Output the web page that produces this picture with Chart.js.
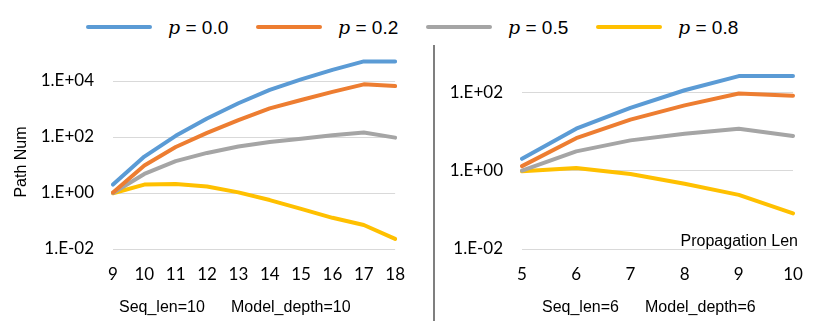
<!DOCTYPE html>
<html>
<head>
<meta charset="utf-8">
<script src="https://cdn.jsdelivr.net/npm/chart.js@4.4.1/dist/chart.umd.min.js"></script>
<style>
  body { margin: 0; background: #fff; }
  #wrap { position: relative; width: 832px; height: 331px; overflow: hidden; }
  #left { position: absolute; left: 0; top: 0; }
  #right { position: absolute; left: 420px; top: 0; }
  #divider { position: absolute; left: 433px; top: 45px; width: 2px; height: 276px; background: #7f7f7f; }
  #legend { position: absolute; left: 86px; top: 13px; display: flex; }
  .item { display: flex; align-items: center; width: 170px; height: 28px; }
  .swatch { width: 66px; height: 4px; border-radius: 2px; margin-right: 16px; }
  .lbl { font-family: "Liberation Sans", Arial, sans-serif; font-size: 19px; color: #000; white-space: pre; }
  .lbl i { font-family: "DejaVu Serif", serif; font-size: 19px; }
</style>
</head>
<body>
<div id="wrap">
  <div id="legend"></div>
  <canvas id="left" width="420" height="331"></canvas>
  <canvas id="right" width="412" height="331"></canvas>
  <div id="divider"></div>
</div>
<script>
// nazwy serii i kolory
const pValues = ["0.0", "0.2", "0.5", "0.8"]
const colors = ["#5B9BD5", "#ED7D31", "#A5A5A5", "#FFC000"]

// lewy wykres (Seq_len=10, Model_depth=10)
const leftX = ["9", "10", "11", "12", "13", "14", "15", "16", "17", "18"]
const leftP00 = [2, 20, 110, 460, 1600, 4800, 11500, 25000, 50000, 50000]
const leftP02 = [1.05, 9.6, 44, 140, 400, 1050, 2100, 4100, 7600, 6600]
const leftP05 = [1, 4.8, 13.7, 27, 46, 66, 87, 115, 144, 95]
const leftP08 = [0.98, 2.0, 2.1, 1.7, 1.05, 0.56, 0.27, 0.13, 0.072, 0.023]
const leftTicks = [0.01, 1, 100, 10000]

// prawy wykres (Seq_len=6, Model_depth=6)
const rightX = ["5", "6", "7", "8", "9", "10"]
const rightP00 = [2, 11.7, 40, 112, 258, 258]
const rightP02 = [1.3, 6.7, 20, 46, 93, 81]
const rightP05 = [1, 3.1, 5.9, 8.7, 11.7, 7.6]
const rightP08 = [0.96, 1.17, 0.82, 0.46, 0.24, 0.081]
const rightTicks = [0.01, 1, 100]

const yTitle = "Path Num"
const leftNotes = ["Seq_len=10", "Model_depth=10"]
const rightNotes = ["Seq_len=6", "Model_depth=6"]
const xTitle = "Propagation Len"

// legenda w HTML, jedna wspólna dla obu wykresów
const legend = document.querySelector("#legend")
pValues.forEach((p, i) => {
    const item = document.createElement("div")
    item.className = "item"
    item.innerHTML = '<div class="swatch" style="background:' + colors[i] + '"></div>' +
        '<span class="lbl"><i>p</i> = ' + p + '</span>'
    legend.appendChild(item)
})

function fmtTick(v) {
    const e = Math.round(Math.log10(v))
    return "1.E" + (e < 0 ? "-" : "+") + String(Math.abs(e)).padStart(2, "0")
}

// teksty dodatkowe rysowane na canvasie
const notesPlugin = {
    id: "notes",
    afterDraw(chart, args, opts) {
        const ctx = chart.ctx
        ctx.save()
        ctx.fillStyle = "#000"
        ctx.font = '16px "Liberation Sans", Arial, sans-serif'
        ctx.textBaseline = "alphabetic"
        ctx.textAlign = "left"
        for (const t of opts.texts) {
            ctx.fillText(t.text, t.x, t.y)
        }
        if (opts.right) {
            ctx.textAlign = "right"
            ctx.fillText(opts.right.text, opts.right.x, opts.right.y)
        }
        if (opts.rotated) {
            ctx.translate(opts.rotated.x, opts.rotated.y)
            ctx.rotate(-Math.PI / 2)
            ctx.textAlign = "center"
            ctx.textBaseline = "middle"
            ctx.fillText(opts.rotated.text, 0, 0)
        }
        ctx.restore()
    }
}

function createChart(canvas, labels, series, ticks, yMax, yWidth, padRight, notes) {
    const datasets = series.map((data, i) => ({
        label: "p = " + pValues[i],
        data,
        borderColor: colors[i],
        backgroundColor: colors[i],
        borderWidth: 4,
        pointRadius: 0,
        tension: 0,
        borderCapStyle: "round",
        borderJoinStyle: "round",
        fill: false
    }))
    return new Chart(canvas, {
        type: "line",
        data: { labels, datasets },
        options: {
            responsive: false,
            animation: false,
            events: [],
            layout: { padding: { top: 53, right: padRight, bottom: 0, left: 0 } },
            plugins: {
                legend: { display: false },
                tooltip: { enabled: false },
                notes
            },
            scales: {
                x: {
                    type: "category",
                    offset: false,
                    grid: { display: false, drawTicks: false },
                    border: { display: false },
                    ticks: {
                        color: "#000",
                        font: { family: "Lato", size: 17 },
                        padding: 15,
                        maxRotation: 0,
                        autoSkip: false
                    },
                    afterFit(scale) { scale.height = 82 }
                },
                y: {
                    type: "logarithmic",
                    min: 0.01,
                    max: yMax,
                    grid: { color: "#d9d9d9", lineWidth: 1, drawTicks: false },
                    border: { display: false },
                    ticks: {
                        color: "#000",
                        font: { family: "Lato", size: 17 },
                        padding: 19,
                        callback: (v) => fmtTick(v)
                    },
                    afterBuildTicks(scale) {
                        scale.ticks = ticks.map(v => ({ value: v }))
                    },
                    afterFit(scale) { scale.width = yWidth }
                }
            }
        },
        plugins: [notesPlugin]
    })
}

createChart(document.querySelector("#left"), leftX,
    [leftP00, leftP02, leftP05, leftP08], leftTicks, 100000, 113, 18,
    {
        texts: [{ text: leftNotes[0], x: 119, y: 312 }, { text: leftNotes[1], x: 231, y: 312 }],
        rotated: { text: yTitle, x: 22, y: 162 }
    })

createChart(document.querySelector("#right"), rightX,
    [rightP00, rightP02, rightP05, rightP08], rightTicks, 1000, 102, 39,
    {
        texts: [{ text: rightNotes[0], x: 122, y: 312 }, { text: rightNotes[1], x: 225, y: 312 }],
        right: { text: xTitle, x: 378, y: 246 }
    })
</script>
</body>
</html>
